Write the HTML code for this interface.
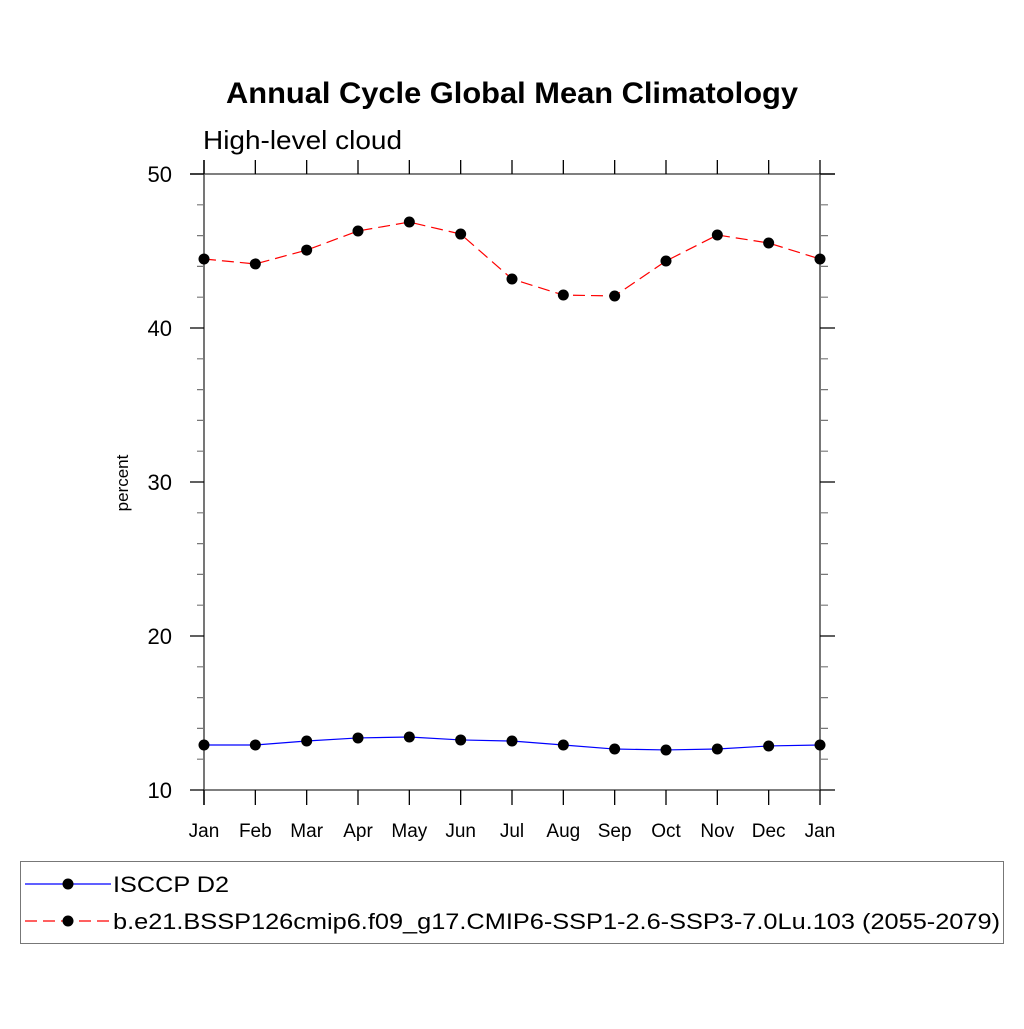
<!DOCTYPE html>
<html><head><meta charset="utf-8"><style>
body{margin:0;background:#fff;width:1024px;height:1024px;overflow:hidden}
svg text{font-family:"Liberation Sans",sans-serif;fill:#000}
</style></head><body>
<svg id="chart" width="1024" height="1024" xmlns="http://www.w3.org/2000/svg">
<text x="226" y="103" font-size="30" font-weight="bold" textLength="572" lengthAdjust="spacingAndGlyphs">Annual Cycle Global Mean Climatology</text>
<text x="203" y="149" font-size="26" textLength="199" lengthAdjust="spacingAndGlyphs">High-level cloud</text>
<text transform="translate(128,483) rotate(-90)" text-anchor="middle" font-size="17">percent</text>
<g id="axes"></g>
<g id="series"></g>
<rect x="20.5" y="861.5" width="983" height="82" fill="none" stroke="#777" stroke-width="1"/>
<g id="legend"></g>
</svg>
<script>
const months=["Jan","Feb","Mar","Apr","May","Jun","Jul","Aug","Sep","Oct","Nov","Dec","Jan"];
const yTicks=[10,20,30,40,50];
const isccp=[12.92,12.92,13.18,13.38,13.44,13.25,13.18,12.92,12.66,12.6,12.66,12.86,12.92];
const model=[44.48,44.16,45.06,46.3,46.88,46.1,43.18,42.14,42.08,44.35,46.04,45.52,44.48];
const seriesNames=["ISCCP D2","b.e21.BSSP126cmip6.f09_g17.CMIP6-SSP1-2.6-SSP3-7.0Lu.103 (2055-2079)"];
const legendWidths=[116,887];
const NS="http://www.w3.org/2000/svg";
const X0=204,X1=820,Y0=790,Y1=174,YMIN=10,YMAX=50;
function xs(i){return X0+(X1-X0)*i/(months.length-1);}
function ys(v){return Y0-(v-YMIN)/(YMAX-YMIN)*(Y0-Y1);}
function mk(tag,attrs,parent){const e=document.createElementNS(NS,tag);for(const k in attrs)e.setAttribute(k,attrs[k]);parent.appendChild(e);return e;}
const axes=document.getElementById('axes');
let e;
e=mk('path',{d:`M${X0},160V805M190,${Y1}H835M${X1},${Y1}V${Y0}M${X0},${Y0}H${X1}`,stroke:'#555','stroke-width':1.6,fill:'none'},axes);


months.forEach((m,i)=>{
  const x=xs(i);
  let t=mk('path',{d:`M${x},${Y0}V805M${x},${Y1}V160`,stroke:'#000','stroke-width':1.3},axes);
  
  
  let l=mk('text',{x:x,y:837,'text-anchor':'middle','font-size':19},axes);
  l.textContent=m;
  
  
});
for(let v=YMIN;v<=YMAX;v+=2){
  const y=ys(v);const major=(v%10===0);
  let t=mk('path',{d:`M${X0},${y}H${major?190:197}M${X1},${y}H${major?835:828}`,stroke:major?'#000':'#777','stroke-width':1.2},axes);
  
  
}
yTicks.forEach(v=>{
  let l=mk('text',{x:172,y:ys(v)+8,'text-anchor':'end','font-size':22},axes);
  l.textContent=v;
  
  
});
const sg=document.getElementById('series');
function drawSeries(vals,color,dash,name){
  const g=mk('g',{},sg);
  
  
  const p=mk('polyline',{points:vals.map((v,i)=>xs(i)+','+ys(v)).join(' '),fill:'none',stroke:color,'stroke-width':1.2,'stroke-dasharray':dash},g);
  
  
  vals.forEach((v,i)=>{
    const c=mk('circle',{cx:xs(i),cy:ys(v),r:5.5,fill:'#000'},g);
    
    
  });
}
drawSeries(isccp,'#0000ff','none','isccp-series');
drawSeries(model,'#ff0000','12 6','model-series');
const lg=document.getElementById('legend');
[[884,'#0000ff','none'],[921,'#ff0000','12 6']].forEach((d,i)=>{
  const g=mk('g',{},lg);
  
  
  mk('line',{x1:25,x2:111,y1:d[0],y2:d[0],stroke:d[1],'stroke-width':1.2,'stroke-dasharray':d[2]},g);
  mk('circle',{cx:68,cy:d[0],r:5.5,fill:'#000'},g);
  const t=mk('text',{x:113,y:d[0]+8,'font-size':22,textLength:legendWidths[i],lengthAdjust:'spacingAndGlyphs'},g);
  t.textContent=seriesNames[i];
});
</script>
</body></html>
